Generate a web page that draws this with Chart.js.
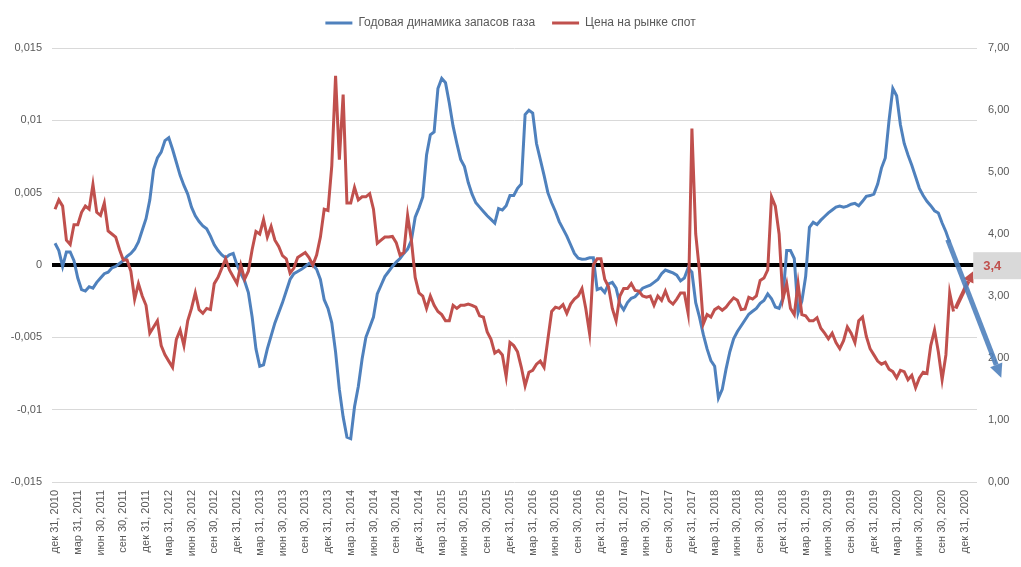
<!DOCTYPE html>
<html>
<head>
<meta charset="utf-8">
<script src="https://cdn.jsdelivr.net/npm/chart.js@4.4.1/dist/chart.umd.min.js"></script>
<style>
  html, body { margin: 0; padding: 0; background: #fff; }
  #wrap { width: 1021px; height: 567px; }
</style>
</head>
<body>
<div id="wrap"><canvas id="chart" width="1021" height="567"></canvas></div>
<script>
// quarterly tick labels, one every 3 months starting Dec 31, 2010
const tickLabels = [
  'дек 31, 2010', 'мар 31, 2011', 'июн 30, 2011', 'сен 30, 2011',
  'дек 31, 2011', 'мар 31, 2012', 'июн 30, 2012', 'сен 30, 2012',
  'дек 31, 2012', 'мар 31, 2013', 'июн 30, 2013', 'сен 30, 2013',
  'дек 31, 2013', 'мар 31, 2014', 'июн 30, 2014', 'сен 30, 2014',
  'дек 31, 2014', 'мар 31, 2015', 'июн 30, 2015', 'сен 30, 2015',
  'дек 31, 2015', 'мар 31, 2016', 'июн 30, 2016', 'сен 30, 2016',
  'дек 31, 2016', 'мар 31, 2017', 'июн 30, 2017', 'сен 30, 2017',
  'дек 31, 2017', 'мар 31, 2018', 'июн 30, 2018', 'сен 30, 2018',
  'дек 31, 2018', 'мар 31, 2019', 'июн 30, 2019', 'сен 30, 2019',
  'дек 31, 2019', 'мар 31, 2020', 'июн 30, 2020', 'сен 30, 2020',
  'дек 31, 2020'
];

// samples are taken every half month, starting Dec 31, 2010
const sampleStep = 0.5;

// year-on-year change of gas in storage (left axis)
const storageValues = [
  0.0015, 0.0010, -0.0001, 0.0009, 0.0009, 0.0003, -0.0009, -0.0017, -0.0018, -0.0015,
  -0.0016, -0.0012, -0.0009, -0.0006, -0.0005, -0.0002, -0.0001, 0.0001, 0.0003, 0.0006,
  0.0008, 0.0011, 0.0016, 0.0024, 0.0032, 0.0045, 0.0066, 0.0074, 0.0078, 0.0086,
  0.0088, 0.0080, 0.0071, 0.0062, 0.0055, 0.0049, 0.0040, 0.0034, 0.0030, 0.0027,
  0.0025, 0.0020, 0.0014, 0.0010, 0.0007, 0.0005, 0.0007, 0.0008, 0.0000, -0.0006,
  -0.0011, -0.0019, -0.0036, -0.0058, -0.0070, -0.0069, -0.0058, -0.0049, -0.0040, -0.0033,
  -0.0026, -0.0018, -0.0010, -0.0006, -0.00045, -0.0003, -0.0001, 0.0001, 0.0000, -0.0003,
  -0.0010, -0.0024, -0.0030, -0.0040, -0.0060, -0.0086, -0.0105, -0.0119, -0.0120, -0.0098,
  -0.0084, -0.0065,
  -0.0050, -0.0043, -0.0036, -0.0020, -0.0014, -0.0008, -0.00045, -0.0001, 0.0002, 0.00045,
  0.0008, 0.0011, 0.0017, 0.0033, 0.00395, 0.0047, 0.0076, 0.0090, 0.0092, 0.0122,
  0.0129, 0.0126, 0.0112, 0.0096, 0.0084, 0.0073, 0.0068, 0.0057, 0.0049, 0.0043,
  0.0040, 0.0037, 0.0034, 0.00315, 0.0029, 0.0039, 0.0038, 0.0041, 0.0048, 0.0048,
  0.0053, 0.0056,
  0.0104, 0.0107, 0.0105, 0.0084, 0.0073, 0.0062, 0.0050, 0.0043, 0.0037, 0.0030,
  0.0025, 0.0020, 0.0014, 0.0008, 0.00047, 0.0004, 0.00042, 0.0005, 0.0005, -0.0017,
  -0.0016, -0.0019, -0.0013, -0.0012, -0.0016, -0.0027, -0.0031, -0.0026, -0.0023, -0.0022,
  -0.0019, -0.0016, -0.0015, -0.0014, -0.0012, -0.0010, -0.0006, -0.00035, -0.00045, -0.00055,
  -0.0007, -0.0011,
  -0.0009, -0.0002, -0.0005, -0.0026, -0.0036, -0.0048, -0.0058, -0.0066, -0.0070, -0.0092,
  -0.0086, -0.0072, -0.0060, -0.0051, -0.0046, -0.0042, -0.0038, -0.0034, -0.0032, -0.0030,
  -0.00265, -0.00245, -0.0020, -0.00233, -0.0029, -0.0030, -0.0023, 0.0010, 0.0010, 0.00045,
  -0.0033, -0.0025, -0.0008, 0.0026, 0.00295, 0.0028, 0.0031, 0.00335, 0.0036, 0.0038,
  0.0040, 0.00407,
  0.0040, 0.00407, 0.0042, 0.00426, 0.0041, 0.0044, 0.00475, 0.0048, 0.0049, 0.0056,
  0.0067, 0.0074, 0.0100, 0.0122, 0.0117, 0.0097, 0.0084, 0.0076, 0.0069, 0.0061,
  0.0053, 0.0048, 0.0044, 0.0041, 0.00375, 0.0036, 0.0029, 0.0023, 0.00155
];

// spot price (right axis)
const priceValues = [
  4.40, 4.55, 4.45, 3.90, 3.83, 4.15, 4.15, 4.35, 4.45, 4.40,
  4.80, 4.35, 4.30, 4.50, 4.05, 4.00, 3.95, 3.75, 3.58, 3.58,
  3.40, 2.95, 3.20, 3.00, 2.85, 2.40, 2.50, 2.60, 2.20, 2.05,
  1.95, 1.85, 2.30, 2.45, 2.20, 2.60, 2.80, 3.05, 2.78, 2.72,
  2.80, 2.78, 3.20, 3.30, 3.45, 3.60, 3.42, 3.31, 3.20, 3.50,
  3.27, 3.40, 3.75, 4.04, 4.00, 4.23, 3.95, 4.12, 3.90, 3.80,
  3.65, 3.60, 3.37, 3.45, 3.62, 3.66, 3.70, 3.62, 3.50, 3.66,
  3.95, 4.40, 4.38, 5.10, 6.55, 5.20, 6.25, 4.50, 4.50, 4.75,
  4.55, 4.60,
  4.60, 4.65, 4.40, 3.85, 3.90, 3.95, 3.95, 3.96, 3.86, 3.66,
  3.70, 4.30, 3.90, 3.30, 3.05, 3.00, 2.80, 3.00, 2.85, 2.75,
  2.70, 2.60, 2.60, 2.85, 2.80, 2.85, 2.85, 2.87, 2.85, 2.82,
  2.68, 2.66, 2.42, 2.30, 2.08, 2.12, 2.05, 1.70, 2.25, 2.20,
  2.10, 1.85,
  1.55, 1.77, 1.80, 1.90, 1.95, 1.85, 2.30, 2.75, 2.82, 2.80,
  2.86, 2.72, 2.87, 2.95, 3.00, 3.12, 2.80, 2.40, 3.50, 3.60,
  3.60, 3.27, 3.15, 2.80, 2.60, 3.00, 3.12, 3.12, 3.20, 3.09,
  3.08, 3.00, 2.98, 3.00, 2.85, 3.00, 2.93, 3.08, 2.92, 2.87,
  2.95, 3.05,
  3.05, 2.72, 5.70, 4.00, 3.40, 2.55, 2.70, 2.66, 2.78, 2.82,
  2.77, 2.82, 2.90, 2.97, 2.93, 2.78, 2.79, 2.98, 2.95, 3.00,
  3.25, 3.29, 3.42, 4.60, 4.45, 4.00, 2.95, 3.20, 2.80, 2.70,
  3.20, 2.70, 2.68, 2.60, 2.60, 2.65, 2.48, 2.40, 2.31, 2.40,
  2.25, 2.15,
  2.28, 2.50, 2.40, 2.25, 2.60, 2.66, 2.35, 2.15, 2.05, 1.95,
  1.90, 1.93, 1.82, 1.78, 1.68, 1.80, 1.78, 1.65, 1.72, 1.52,
  1.68, 1.77, 1.75, 2.20, 2.45, 2.10, 1.65, 2.05, 3.05, 2.75
];

// hand-drawn forecast arrows on the original picture
const priceForecast = 3.4;
const priceForecastLabel = '3,4';
const priceForecastMonth = 121.1;
const storageArrowEnd = { month: 124.8, value: -0.0078 };

const BLUE = '#4F81BD';
const RED = '#C0504D';
const GRAY_TEXT = '#595959';

Chart.defaults.font.family = "'Liberation Sans', Arial, sans-serif";
Chart.defaults.color = GRAY_TEXT;

const toPoints = values => values.map((v, i) => ({ x: i * sampleStep, y: v }));

function drawArrow(ctx, x0, y0, x1, y1, color, width, headLen, headWidth) {
  const ang = Math.atan2(y1 - y0, x1 - x0);
  const bx = x1 - Math.cos(ang) * headLen;
  const by = y1 - Math.sin(ang) * headLen;
  ctx.save();
  ctx.strokeStyle = color;
  ctx.fillStyle = color;
  ctx.lineWidth = width;
  ctx.lineCap = 'butt';
  ctx.beginPath();
  ctx.moveTo(x0, y0);
  ctx.lineTo(bx, by);
  ctx.stroke();
  ctx.beginPath();
  ctx.moveTo(x1, y1);
  ctx.lineTo(bx + Math.sin(ang) * headWidth / 2, by - Math.cos(ang) * headWidth / 2);
  ctx.lineTo(bx - Math.sin(ang) * headWidth / 2, by + Math.cos(ang) * headWidth / 2);
  ctx.closePath();
  ctx.fill();
  ctx.restore();
}

const forecastArrows = {
  id: 'forecastArrows',
  beforeInit(chart) {
    // leave some room between the legend and the plot
    const fit = chart.legend.fit;
    chart.legend.fit = function () {
      fit.bind(chart.legend)();
      this.height += 9;
    };
  },
  afterDatasetsDraw(chart) {
    const { ctx, width, scales: { x, y, y1 } } = chart;

    // price arrow + value box
    const pi = priceValues.length - 1;
    const rx0 = x.getPixelForValue(pi * sampleStep) + 2;
    const ry0 = y1.getPixelForValue(priceValues[pi]) - 3;
    const rx1 = x.getPixelForValue(priceForecastMonth);
    const ry1 = y1.getPixelForValue(priceForecast);
    drawArrow(ctx, rx0, ry0, rx1, ry1, RED, 4, 11, 11);

    ctx.save();
    ctx.fillStyle = '#D9D9D9';
    ctx.fillRect(rx1, ry1 - 19, width - rx1, 27);
    ctx.fillStyle = RED;
    ctx.font = "bold 13px 'Liberation Sans', Arial, sans-serif";
    ctx.textBaseline = 'middle';
    ctx.textAlign = 'left';
    ctx.fillText(priceForecastLabel, rx1 + 10, ry1 - 5);
    ctx.restore();

    // storage arrow
    const si = storageValues.length - 1;
    const bx0 = x.getPixelForValue(si * sampleStep) - 2;
    const by0 = y.getPixelForValue(storageValues[si]) - 3;
    const bx1 = x.getPixelForValue(storageArrowEnd.month);
    const by1 = y.getPixelForValue(storageArrowEnd.value);
    ctx.save();
    ctx.globalAlpha = 0.9;
    drawArrow(ctx, bx0, by0, bx1, by1, BLUE, 5, 14, 13);
    ctx.restore();
  }
};

const fmtLeft = v => Number(v.toFixed(3)).toString().replace('.', ',');
const fmtRight = v => v.toFixed(2).replace('.', ',');

new Chart(document.getElementById('chart'), {
  type: 'line',
  data: {
    datasets: [
      {
        label: 'Годовая динамика запасов газа',
        data: toPoints(storageValues),
        yAxisID: 'y',
        borderColor: BLUE,
        backgroundColor: BLUE,
        borderWidth: 3,
        pointRadius: 0,
        tension: 0,
        order: 1,
      },
      {
        label: 'Цена на рынке спот',
        data: toPoints(priceValues),
        yAxisID: 'y1',
        borderColor: RED,
        backgroundColor: RED,
        borderWidth: 3,
        pointRadius: 0,
        tension: 0,
        order: 0,
      }
    ]
  },
  options: {
    responsive: false,
    animation: false,
    devicePixelRatio: 1,
    layout: { padding: { top: 0, left: 0, right: 0, bottom: 0 } },
    plugins: {
      legend: {
        position: 'top',
        labels: {
          boxWidth: 27,
          boxHeight: 3,
          padding: 17,
          color: GRAY_TEXT,
          font: { size: 12 },
          generateLabels: chart => chart.data.datasets.map((ds, i) => ({
            text: ds.label,
            fillStyle: ds.borderColor,
            strokeStyle: ds.borderColor,
            lineWidth: 0,
            hidden: false,
            datasetIndex: i,
            fontColor: GRAY_TEXT,
          })),
        }
      },
      tooltip: { enabled: false },
    },
    scales: {
      x: {
        type: 'linear',
        min: -0.4,
        max: 121.6,
        afterBuildTicks: s => { s.ticks = tickLabels.map((_, i) => ({ value: i * 3 })); },
        afterFit: s => { s.height = 85; },
        grid: { display: false, drawTicks: false },
        border: { display: false },
        ticks: {
          autoSkip: false,
          minRotation: 90,
          maxRotation: 90,
          padding: 8,
          font: { size: 11 },
          callback: (v, i) => tickLabels[i],
        }
      },
      y: {
        position: 'left',
        min: -0.015,
        max: 0.015,
        afterFit: s => { s.width = 52; },
        border: { display: false },
        grid: {
          drawTicks: false,
          color: c => c.tick && c.tick.value === 0 ? '#000000' : '#D9D9D9',
          lineWidth: c => c.tick && c.tick.value === 0 ? 4 : 1,
        },
        ticks: {
          stepSize: 0.005,
          padding: 10,
          font: { size: 11 },
          callback: v => fmtLeft(v),
        }
      },
      y1: {
        position: 'right',
        min: 0,
        max: 7,
        afterFit: s => { s.width = 44; },
        border: { display: false },
        grid: { display: false, drawOnChartArea: false, drawTicks: false },
        ticks: {
          stepSize: 1,
          padding: 11,
          font: { size: 11 },
          callback: v => fmtRight(v),
        }
      }
    }
  },
  plugins: [forecastArrows]
});
</script>
</body>
</html>
